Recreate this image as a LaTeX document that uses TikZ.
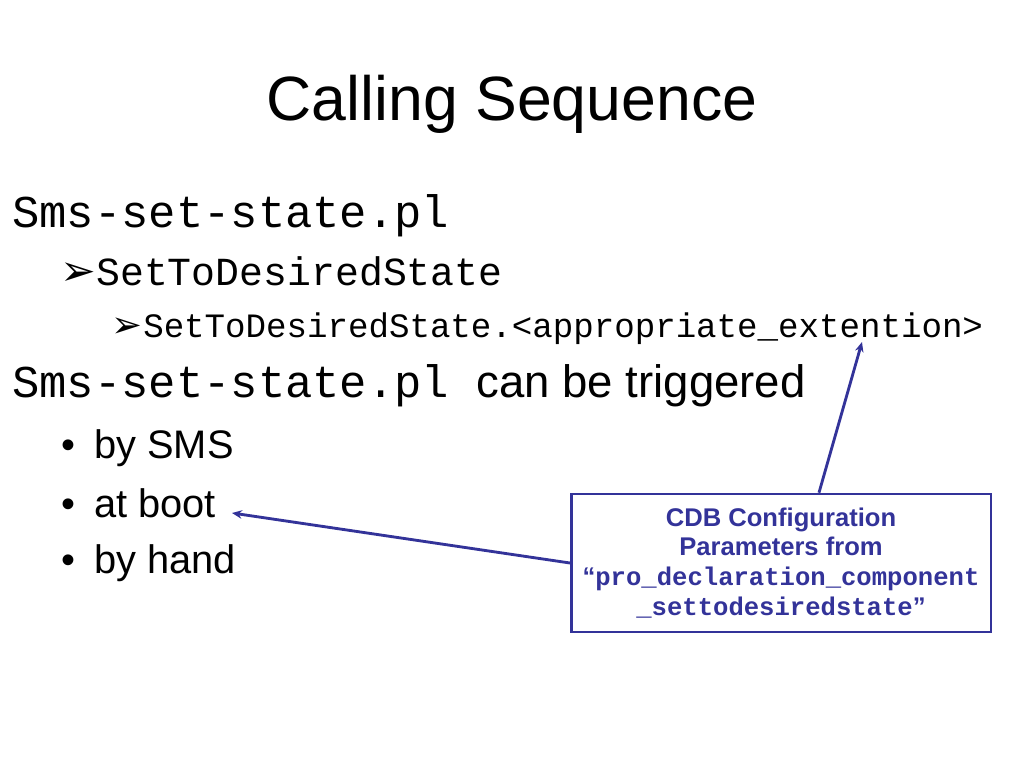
\documentclass[tikz,border=0pt]{standalone}
\usepackage{fontspec}
\setmainfont{Liberation Sans}
\setmonofont{Liberation Mono}
\newfontfamily\dingfont{DejaVu Sans}
\usepackage{xcolor}
\usetikzlibrary{arrows.meta}
\definecolor{cdbblue}{RGB}{51,51,153}

\begin{document}
\begin{tikzpicture}[x=0.703125pt,y=-0.703125pt]
    \tikzstyle{n} = [inner sep=0pt,anchor=base west]
    \tikzstyle{r} = [draw=cdbblue,line width=2pt,-{Stealth[length=7pt,width=6pt]}]
    \tikzstyle{every node}=[font=\fontsize{28}{34}\selectfont]
    \useasboundingbox (0,0) rectangle (1024,768);
    \node [inner sep=0pt,anchor=base,font=\fontsize{44}{53}\selectfont] (title) at (512,121) {Calling Sequence};
    % script and what it calls
    \node [n,font=\fontsize{32}{38}\ttfamily] (1) at (12,228) {Sms-set-state.pl};
    \node [n,font=\fontsize{30}{36}\dingfont] (2b) at (60,285) {➢};
    \node [n,font=\fontsize{28}{34}\ttfamily] (2) at (96,285) {SetToDesiredState};
    \node [n,font=\fontsize{26}{31}\dingfont] (3b) at (111,337) {➢};
    \node [n,font=\fontsize{24}{29}\ttfamily] (3) at (143,337) {SetToDesiredState.<appropriate\_extention>};
    \node [n] (4) at (12,397) {{\fontsize{32}{38}\ttfamily Sms-set-state.pl }{\fontsize{32}{38}\selectfont can be triggered}};
    % triggers
    \node [n] (5b) at (61,458) {•};
    \node [n] (5) at (94,458) {by SMS};
    \node [n] (6b) at (61,517) {•};
    \node [n] (6) at (94,517) {at boot};
    \node [n] (7b) at (61,573) {•};
    \node [n] (7) at (94,573) {by hand};
    \node [draw=cdbblue,line width=1.8pt,align=center,text=cdbblue,inner sep=0pt,
           minimum width=295pt,minimum height=97pt,
           font=\fontsize{18}{21}\bfseries] (box) at (781,563)
      {CDB Configuration\\Parameters from\\“{\ttfamily pro\_declaration\_component}\\{\ttfamily \_settodesiredstate}”};
    \coordinate (ext) at (862,342);
    \coordinate (boot) at (232,513);
    \path [r] ([xshift=26.7pt]box.north) to (ext);
    \path [r] (box.west) to (boot);
\end{tikzpicture}
\end{document}
